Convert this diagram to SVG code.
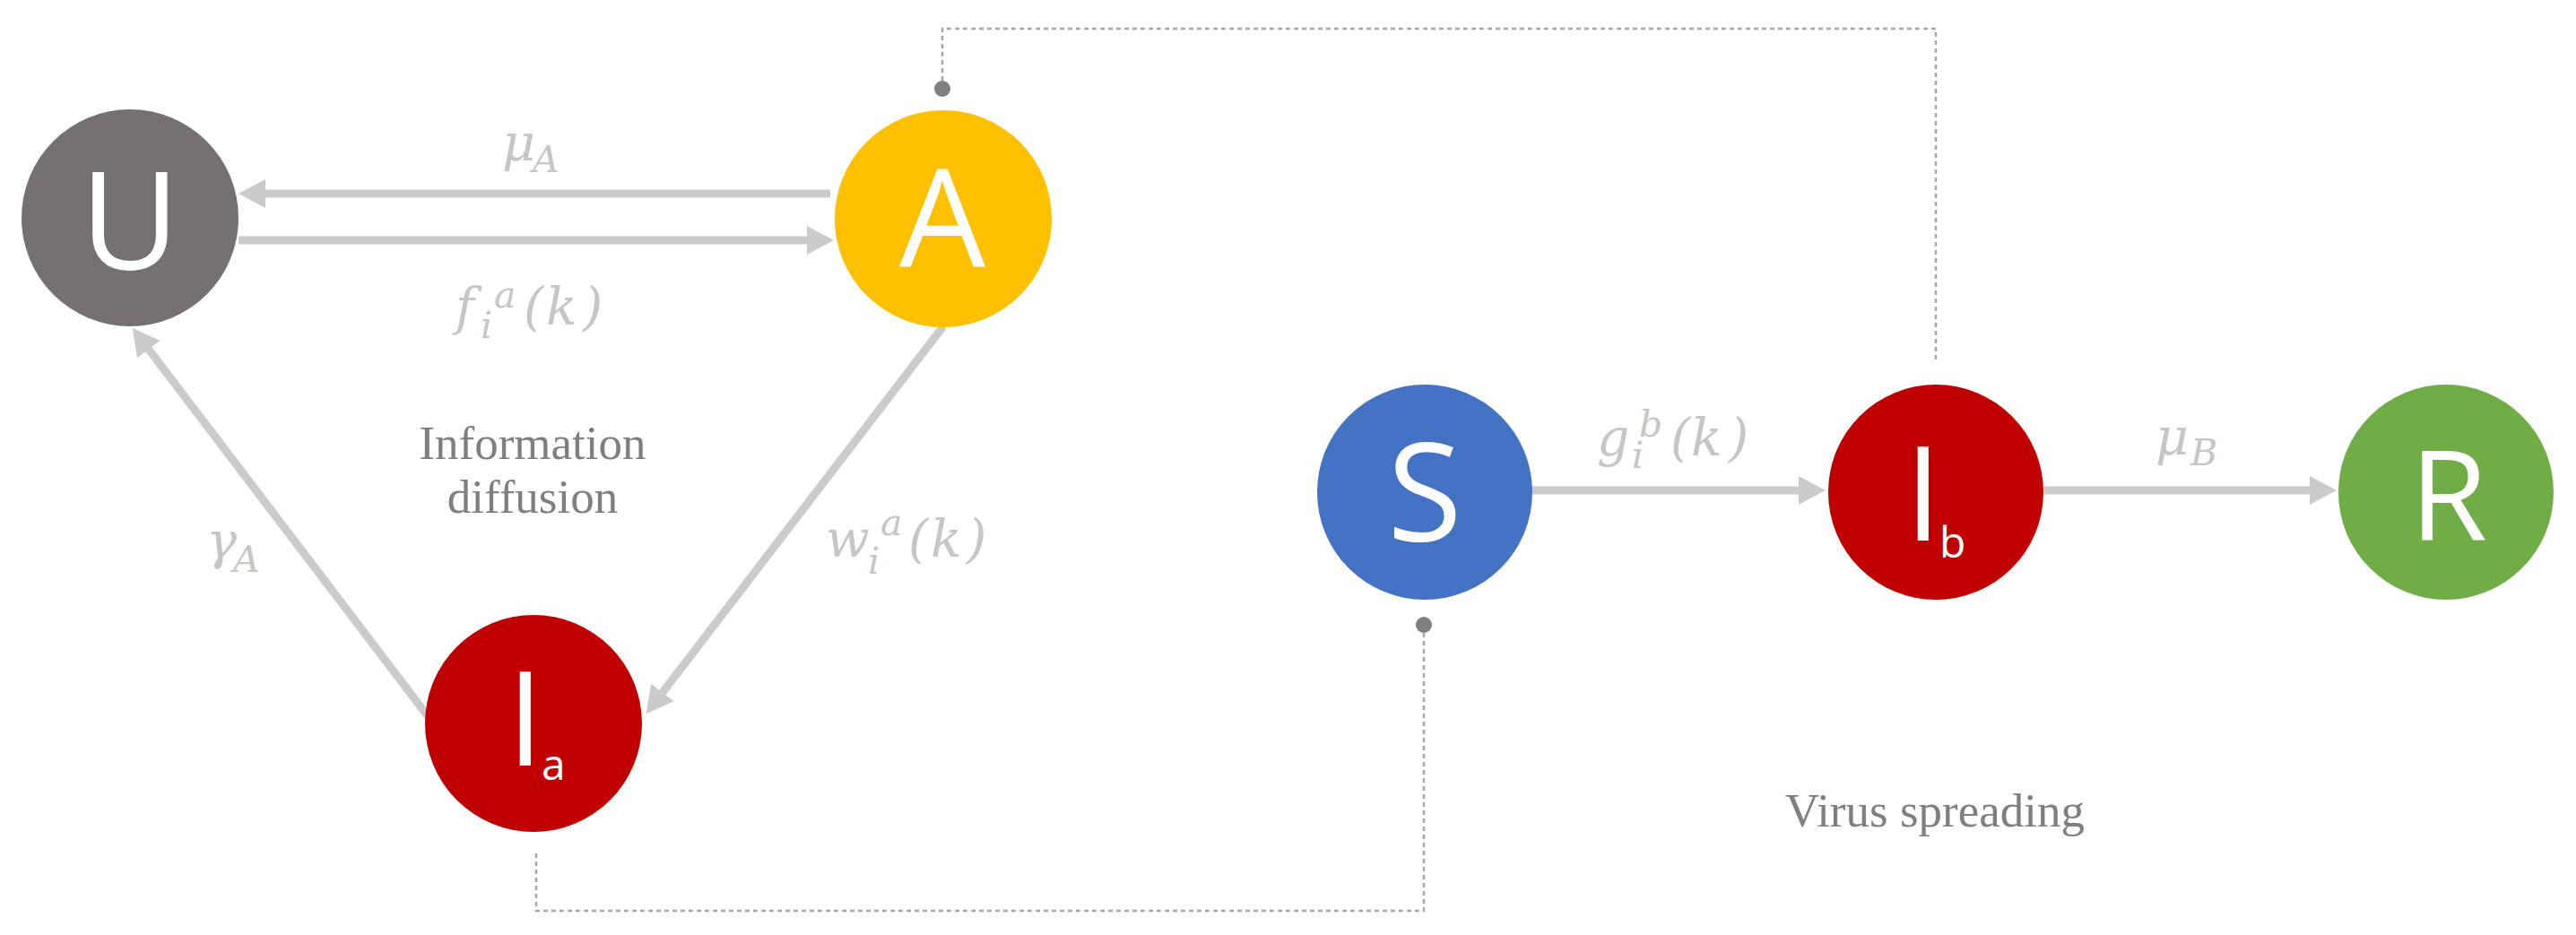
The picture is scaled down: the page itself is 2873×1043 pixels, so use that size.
<svg xmlns="http://www.w3.org/2000/svg" width="2873" height="1043" viewBox="0 0 2873 1043">
<style>
.node-letter{font-family:"Open Sans","Noto Sans",sans-serif;fill:#ffffff;}
.math{font-family:"DejaVu Serif",serif;font-style:italic;fill:#c6c6c6;font-size:57px;}
.math .s{font-size:41px;}
.caption{font-family:"Liberation Serif",serif;fill:#7f7f7f;font-size:53px;text-anchor:middle;}
.arrow{stroke:#cbcbcb;stroke-width:9;fill:none;marker-end:url(#ah);}
.dotted{stroke:#a6a6a6;stroke-width:2.5;fill:none;stroke-dasharray:5 4;}
.dot{fill:#7f7f7f;}
</style>
<defs>
<marker id="ah" markerUnits="userSpaceOnUse" viewBox="0 0 30 32" markerWidth="30" markerHeight="32" refX="1" refY="16" orient="auto">
<path d="M0,0 L30,16 L0,32 z" fill="#cbcbcb"/>
</marker>
</defs>
<rect width="2873" height="1043" fill="#ffffff"/>
<g id="connectors">
<line class="arrow" x1="926" y1="216" x2="295" y2="216"/>
<line class="arrow" x1="266" y1="268" x2="901" y2="268"/>
<line class="arrow" x1="1052" y1="364" x2="738.3" y2="773.2"/>
<line class="arrow" x1="478" y1="800" x2="165.2" y2="388.9"/>
<line class="arrow" x1="1708" y1="547" x2="2007" y2="547"/>
<line class="arrow" x1="2278" y1="547" x2="2577" y2="547"/>
<path class="dotted" d="M1051,99 V32 H2159 V405"/>
<circle class="dot" cx="1051" cy="99" r="9"/>
<path class="dotted" d="M1588,697 V1016 H598 V952"/>
<circle class="dot" cx="1588" cy="697" r="9"/>
</g>
<g id="labels">
<text class="math"><tspan x="560" y="179">μ</tspan><tspan class="s" x="594" y="192">A</tspan></text>
<text class="math"><tspan x="508" y="362">f</tspan><tspan class="s" x="536" y="377">i</tspan><tspan class="s" x="551" y="343">a</tspan><tspan x="584" y="362">(</tspan><tspan x="609" y="362">k</tspan><tspan x="650" y="362">)</tspan></text>
<text class="math"><tspan x="921" y="621">w</tspan><tspan class="s" x="968" y="640">i</tspan><tspan class="s" x="982" y="597">a</tspan><tspan x="1013" y="621">(</tspan><tspan x="1038" y="621">k</tspan><tspan x="1078" y="621">)</tspan></text>
<text class="math"><tspan x="230" y="623">γ</tspan><tspan class="s" x="260" y="638">A</tspan></text>
<text class="math"><tspan x="1781" y="508">g</tspan><tspan class="s" x="1820" y="522">i</tspan><tspan class="s" x="1828" y="487">b</tspan><tspan x="1863" y="508">(</tspan><tspan x="1886" y="508">k</tspan><tspan x="1928" y="508">)</tspan></text>
<text class="math"><tspan x="2404" y="507">μ</tspan><tspan class="s" x="2443" y="519">B</tspan></text>
<text class="caption" x="594" y="512">Information</text>
<text class="caption" x="594" y="572">diffusion</text>
<text class="caption" x="2158" y="922">Virus spreading</text>
</g>
<g id="node-U">
<circle cx="145" cy="243" r="121" fill="#767171"/>
<text class="node-letter" x="145" y="301" font-size="152" text-anchor="middle">U</text>
</g>
<g id="node-A">
<circle cx="1052" cy="244" r="121" fill="#ffc000"/>
<text class="node-letter" x="1051" y="298" font-size="152" text-anchor="middle">A</text>
</g>
<g id="node-Ia">
<circle cx="595" cy="807" r="121" fill="#c00000"/>
<text class="node-letter" x="586" y="854" font-size="146" text-anchor="middle">I</text>
<text class="node-letter" x="604" y="870" font-size="48">a</text>
</g>
<g id="node-S">
<circle cx="1589" cy="549" r="120" fill="#4472c4"/>
<text class="node-letter" x="1589" y="604" font-size="152" text-anchor="middle">S</text>
</g>
<g id="node-Ib">
<circle cx="2159" cy="549" r="120" fill="#c00000"/>
<text class="node-letter" x="2145" y="603" font-size="146" text-anchor="middle">I</text>
<text class="node-letter" x="2163" y="622" font-size="48">b</text>
</g>
<g id="node-R">
<circle cx="2728" cy="549" r="120" fill="#70ad47"/>
<text class="node-letter" x="2731" y="603" font-size="140" text-anchor="middle">R</text>
</g>
</svg>
